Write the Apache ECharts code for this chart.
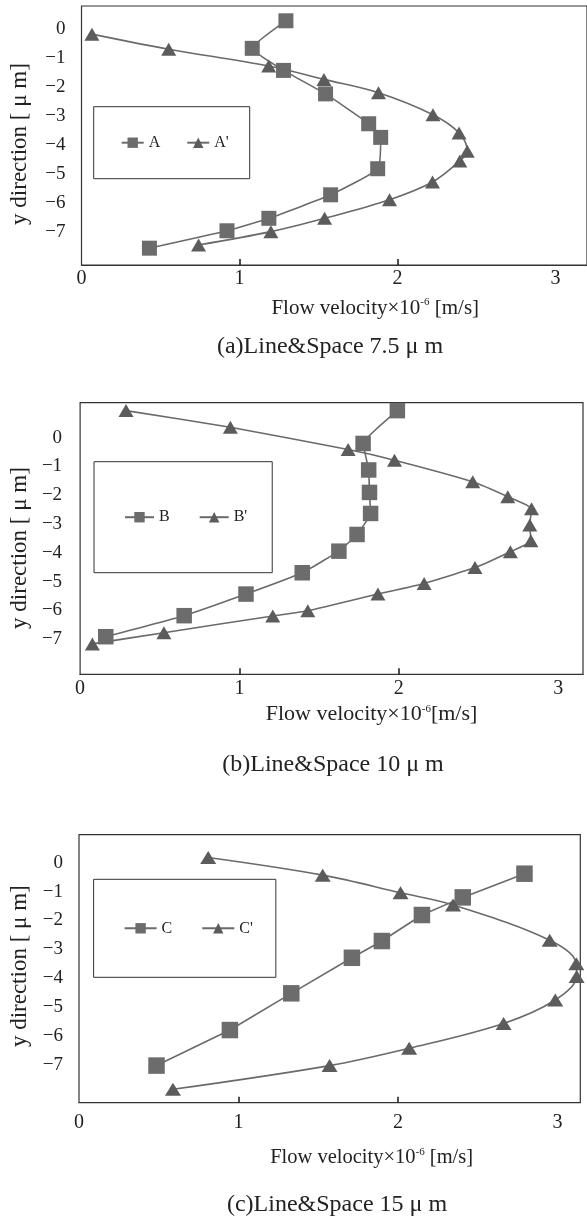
<!DOCTYPE html>
<html>
<head>
<meta charset="utf-8">
<script src="https://cdn.jsdelivr.net/npm/echarts@6/dist/echarts.min.js"></script>
<style>
  html, body { margin: 0; padding: 0; background: #ffffff; }
  #chart { width: 587px; height: 1220px; }
</style>
</head>
<body>
<div id="chart"></div>
<script>
// ---- Tick labels ----
const xTicks = [0, 1, 2, 3];
const yTicks = [0, -1, -2, -3, -4, -5, -6, -7];
const xTickMarks = [1, 2];

// ---- Panel (a): Line&Space 7.5 μm ----
const aVel  = [1.294, 1.081, 1.279, 1.545, 1.818, 1.894, 1.875, 1.577, 1.186, 0.921, 0.430];
const aY    = [0.29, -0.66, -1.42, -2.23, -3.26, -3.73, -4.81, -5.71, -6.52, -6.95, -7.55];
const apVel = [0.066, 0.552, 1.185, 1.535, 1.880, 2.225, 2.390, 2.442, 2.395, 2.222, 1.950, 1.539, 1.199, 0.741];
const apY   = [-0.17, -0.69, -1.27, -1.73, -2.19, -2.95, -3.58, -4.21, -4.54, -5.27, -5.88, -6.52, -6.98, -7.44];

// ---- Panel (b): Line&Space 10 μm ----
const bVel  = [1.991, 1.776, 1.811, 1.816, 1.823, 1.738, 1.624, 1.394, 1.041, 0.653, 0.161];
const bY    = [0.94, -0.20, -1.12, -1.90, -2.63, -3.36, -3.94, -4.69, -5.43, -6.18, -6.91];
const bpVel = [0.288, 0.943, 1.682, 1.973, 2.464, 2.684, 2.833, 2.822, 2.829, 2.700, 2.478, 2.159, 1.869, 1.429, 1.209, 0.526, 0.077];
const bpY   = [0.94, 0.36, -0.41, -0.78, -1.53, -2.05, -2.47, -3.03, -3.58, -3.96, -4.51, -5.06, -5.43, -6.01, -6.19, -6.77, -7.16];

// ---- Panel (c): Line&Space 15 μm ----
const cVel  = [2.793, 2.406, 2.150, 1.899, 1.711, 1.331, 0.946, 0.486];
const cY    = [-0.38, -1.20, -1.81, -2.71, -3.29, -4.52, -5.79, -7.02];
const cpVel = [0.810, 1.528, 2.016, 2.345, 2.951, 3.118, 3.120, 2.986, 2.662, 2.070, 1.571, 0.589];
const cpY   = [0.18, -0.43, -1.04, -1.46, -2.68, -3.50, -3.94, -4.75, -5.56, -6.42, -7.02, -7.84];

const captions = ['(a)Line&Space 7.5 μ m', '(b)Line&Space 10 μ m', '(c)Line&Space 15 μ m'];
const yTitle = 'y direction [ μ m]';
const xTitle = 'Flow velocity×10{sup|-6} [m/s]';
const xTitleB = 'Flow velocity×10{sup|-6}[m/s]';

const FONT = "'Liberation Serif', 'DejaVu Serif', serif";
const TXT = '#222222';
const LINE = '#6a6a6a';
const SQ = '#6c6c6c';
const TRI = '#5c5c5c';

function zip(xs, ys) { return xs.map((v, i) => [v, ys[i]]); }
function minusFmt(v) { return v < 0 ? '\u2212' + (-v) : String(v); }

// layout per panel
const panels = [
  { grid: { left: 81.5, top: 6, width: 507.2, height: 259 },
    x: { max: 3.2, labelMargin: 4, nameGap: 32, nameShift: 82, nameSize: 21, title: xTitle },
    y: { min: -8.13, max: 0.8, nameGap: 50, namePad: [0, 17, 0, 0], labelMargin: 16 },
    legend: { left: 93.7, top: 106.7, padding: [28, 21, 28, 27], itemWidth: 22, itemGap: 26 },
    caption: { x: 330, y: 347 },
    names: ['A', "A'"], sq: zip(aVel, aY), tri: zip(apVel, apY), sqSize: 15, triSize: [15, 13], smoothTri: 0.35, smoothSq: 0.15 },
  { grid: { left: 78, top: 402.7, width: 505, height: 271.6 },
    x: { max: 3.156, labelMargin: 4, nameGap: 29, nameShift: 80, nameSize: 22, title: xTitleB },
    y: { min: -8.215, max: 1.215, nameGap: 46, namePad: [0, 19, 0, 0], labelMargin: 18 },
    legend: { left: 94, top: 461.7, padding: [47.5, 25, 47.5, 30], itemWidth: 29, itemGap: 29 },
    caption: { x: 333, y: 765 },
    names: ['B', "B'"], sq: zip(bVel, bY), tri: zip(bpVel, bpY), sqSize: 15.5, triSize: [15, 13], smoothTri: 0.15, smoothSq: 0.1 },
  { grid: { left: 79, top: 834.7, width: 501.3, height: 268 },
    x: { max: 3.143, labelMargin: 10, nameGap: 44, nameShift: 84, nameSize: 20.5, title: xTitle },
    y: { min: -8.304, max: 0.969, nameGap: 46, namePad: [0, 0, 0, 5], labelMargin: 16 },
    legend: { left: 93.6, top: 879.3, padding: [41, 23, 41, 30], itemWidth: 32, itemGap: 29 },
    caption: { x: 337, y: 1205 },
    names: ['C', "C'"], sq: zip(cVel, cY), tri: zip(cpVel, cpY), sqSize: 16.5, triSize: [16, 13], smoothTri: 0.35, smoothSq: 0 }
];

const option = {
  animation: false,
  backgroundColor: '#ffffff',
  grid: [], xAxis: [], yAxis: [], series: [], legend: [], graphic: []
};

panels.forEach((p, i) => {
  option.grid.push(Object.assign({ show: true, borderColor: '#333333', borderWidth: 1.2, backgroundColor: 'transparent' }, p.grid));
  option.xAxis.push({
    type: 'value', gridIndex: i, min: 0, max: p.x.max, position: 'bottom',
    axisLine: { show: true, onZero: false, lineStyle: { color: '#333333', width: 1.2 } },
    splitLine: { show: false },
    axisTick: { show: true, inside: true, length: 6, customValues: xTickMarks, lineStyle: { color: '#222222', width: 1.6 } },
    axisLabel: { customValues: xTicks, margin: p.x.labelMargin, fontSize: 20, fontFamily: FONT, color: TXT },
    name: p.x.title, nameLocation: 'middle', nameGap: p.x.nameGap,
    nameTextStyle: {
      fontSize: p.x.nameSize, fontFamily: FONT, color: TXT, padding: [0, 0, 0, p.x.nameShift],
      lineHeight: 22,
      rich: { sup: { fontSize: 11, fontFamily: FONT, color: TXT, verticalAlign: 'top', lineHeight: 12 } }
    }
  });
  option.yAxis.push({
    type: 'value', gridIndex: i, min: p.y.min, max: p.y.max,
    axisLine: { show: false, onZero: false },
    splitLine: { show: false },
    axisTick: { show: false },
    axisLabel: { customValues: yTicks, formatter: minusFmt, margin: p.y.labelMargin, fontSize: 19, fontFamily: FONT, color: TXT },
    name: yTitle, nameLocation: 'middle', nameGap: p.y.nameGap,
    nameTextStyle: { fontSize: 23, fontFamily: FONT, color: TXT, padding: p.y.namePad }
  });
  option.series.push({
    name: p.names[0], type: 'line', xAxisIndex: i, yAxisIndex: i,
    data: p.sq, symbol: 'rect', symbolSize: p.sqSize, smooth: p.smoothSq,
    itemStyle: { color: SQ }, lineStyle: { color: LINE, width: 1.6 }, z: 3
  });
  option.series.push({
    name: p.names[1], type: 'line', xAxisIndex: i, yAxisIndex: i,
    data: p.tri, symbol: 'triangle', symbolSize: p.triSize, smooth: p.smoothTri,
    itemStyle: { color: TRI }, lineStyle: { color: LINE, width: 1.6 }, z: 4
  });
  option.legend.push({
    data: p.names, orient: 'horizontal',
    left: p.legend.left, top: p.legend.top, padding: p.legend.padding,
    itemWidth: p.legend.itemWidth, itemHeight: 13, itemGap: p.legend.itemGap,
    borderColor: '#333333', borderWidth: 1, backgroundColor: '#ffffff',
    selectedMode: false,
    textStyle: { fontSize: 16, fontFamily: FONT, color: TXT, lineHeight: 16 }
  });
  option.graphic.push({
    type: 'text', x: p.caption.x, y: p.caption.y,
    style: { text: captions[i], font: '24px ' + FONT, fill: TXT, textAlign: 'center', textVerticalAlign: 'middle' }
  });
});

const chart = echarts.init(document.getElementById('chart'), null, { renderer: 'canvas' });
chart.setOption(option);
</script>
</body>
</html>
